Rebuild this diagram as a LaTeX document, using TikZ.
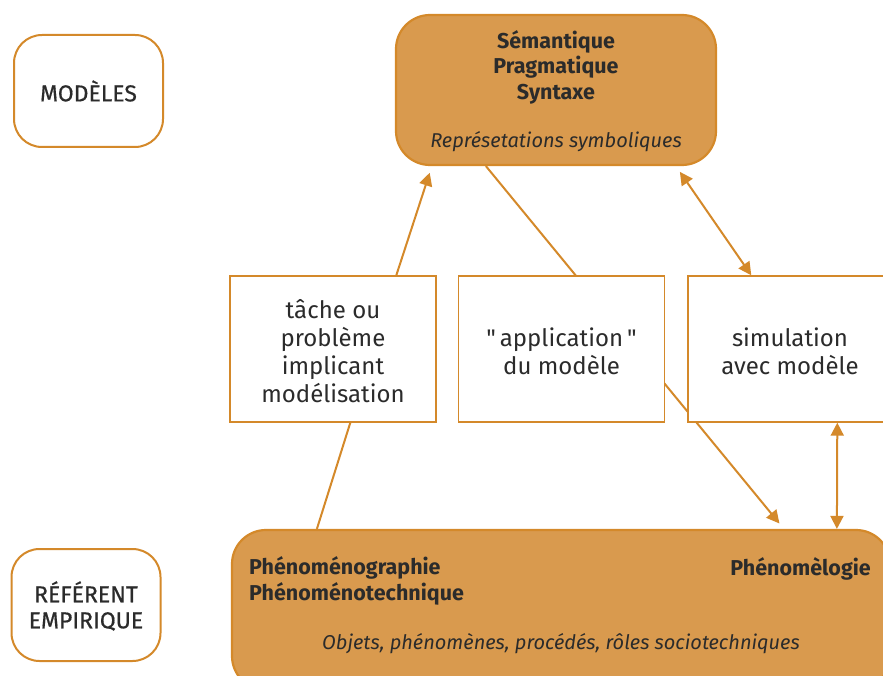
\documentclass[tikz,border=0pt]{standalone}
\usepackage{fontspec}
\setmainfont{Fira Sans}
\newfontfamily\sidefont[FakeBold=0.6]{Fira Sans}
\newfontfamily\quotefont{Fira Sans}
\newcommand{\strq}{{\quotefont\symbol{34}}}
\usetikzlibrary{arrows.meta,calc}
\definecolor{lc}{HTML}{D4892A}
\definecolor{bf}{HTML}{D99A4E}
\definecolor{tc}{HTML}{2B2B2B}
\tikzset{
  ln/.style={draw=lc, line width=2pt},
  arr/.style={ln, -{Triangle[length=13pt,width=13pt]}},
  darr/.style={ln, {Triangle[length=13pt,width=13pt]}-{Triangle[length=13pt,width=13pt]}},
  bigbox/.style={draw=lc, fill=bf, line width=2.2pt, rounded corners=34pt, inner sep=0pt},
  midbox/.style={draw=lc, fill=white, line width=1.4pt, minimum width=206pt, minimum height=146pt, inner sep=0pt},
  sidebox/.style={draw=lc, fill=white, line width=2pt, rounded corners=28pt, minimum width=149pt, minimum height=112pt, inner sep=0pt},
  boldtxt/.style={text=tc, font=\bfseries\fontsize{21.5}{25.5}\selectfont, align=center, inner sep=0pt},
  ittxt/.style={text=tc, font=\itshape\fontsize{20}{22}\selectfont, inner sep=0pt},
  midtxt/.style={text=tc, font=\fontsize{24}{28}\selectfont, align=center, inner sep=0pt},
  sidetxt/.style={text=tc, font=\sidefont\fontsize{23}{26}\selectfont, align=center, inner sep=0pt},
}
\begin{document}
\begin{tikzpicture}[x=1pt,y=-1pt]
\useasboundingbox (0,0) rectangle (883,676);
\clip (0,0) rectangle (883,676);
% side labels
\node[sidebox] (mod) at (88.5,91) {};
\node[sidetxt] (modt) at (88.5,91) {MODÈLES};
\node[sidebox] (ref) at (86,605) {};
\node[sidetxt] (reft) at (86,606) {RÉFÉRENT\\EMPIRIQUE};
% big boxes
\node[bigbox, minimum width=320pt, minimum height=150pt] (top) at (556,90) {};
\node[bigbox, minimum width=658pt, minimum height=160pt] (bot) at (561,610) {};
% long arrow behind middle boxes
\draw[arr, shorten >=7pt] ($(top.south west)+(91,0)$) -- ($(bot.north west)+(553,0)$);
% middle boxes
\node[midbox] (m1) at (333,349) {};
\node[midbox] (m2) at (561.5,349) {};
\node[midbox] (m3) at (791,349) {};
% texts
\node[boldtxt] (tt) at (556,67) {Sémantique\\Pragmatique\\Syntaxe};
\node[ittxt] (ti) at (556,142) {Représetations symboliques};
\node[midtxt] (m1t) at (333,351) {tâche ou\\problème\\implicant\\modélisation};
\node[midtxt] (m2t) at (561.5,351) {\strq\,application\,\strq\\du modèle};
\node[midtxt] (m3t) at (790,351) {simulation\\avec modèle};
\node[boldtxt, anchor=west, align=left] (b1) at (249,581) {Phénoménographie\\Phénoménotechnique};
\node[boldtxt, anchor=east] (b2) at (871,569) {Phénomèlogie};
\node[ittxt] (bi) at (561,644) {Objets, phénomènes, procédés, rôles sociotechniques};
% connectors
\draw[arr, shorten >=7pt] ($(m1.north west)+(167,0)$) -- ($(top.south west)+(37,0)$);
\draw[ln] ($(m1.south west)+(121,0)$) -- ($(bot.north west)+(86,0)$);
\draw[darr, shorten <=7pt] ($(top.south west)+(281,0)$) -- ($(m3.north west)+(64,0)$);
\draw[darr] ($(m3.south west)+(150,0)$) -- ($(bot.north west)+(606,0)$);
\end{tikzpicture}
\end{document}
